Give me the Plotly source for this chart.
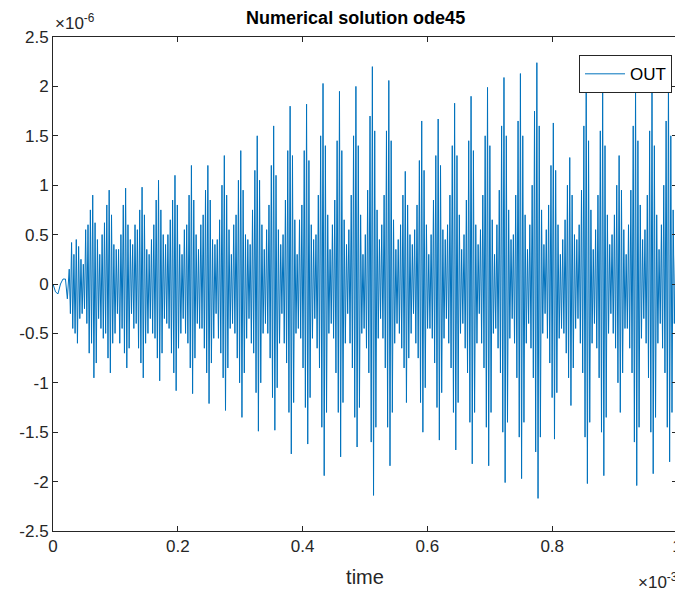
import numpy as np
import plotly.graph_objects as go

# start-up transient before the oscillation (time in 1e-3 units, value in 1e-6 units)
start_t = [0.0, 0.004, 0.008, 0.012, 0.016, 0.020, 0.023]
start_v = [0.0, -0.08, -0.1, 0.0, 0.05, 0.05, -0.15]

# oscillation, read beat by beat (14 half-swings per beat), units of 1e-6
osc_v = [
    0.15, -0.3, 0.42, -0.45, 0.3, -0.5, 0.45, -0.6, 0.38, -0.35, 0.25, -0.3, 0.2, -0.25,
    0.55, -0.4, 0.6, -0.7, 0.75, -0.6, 0.9, -0.95, 0.62, -0.8, 0.45, -0.35, 0.3, -0.45,
    0.5, -0.55, 0.62, -0.5, 0.8, -0.75, 0.95, -0.9, 0.7, -0.6, 0.4, -0.5, 0.35, -0.3,
    0.35, -0.6, 0.5, -0.45, 0.8, -0.7, 0.97, -0.85, 0.6, -0.65, 0.45, -0.3, 0.4, -0.45,
    0.6, -0.4, 0.55, -0.65, 0.75, -0.8, 0.98, -0.95, 0.7, -0.6, 0.35, -0.5, 0.3, -0.35,
    0.45, -0.5, 0.6, -0.55, 0.85, -0.75, 1.05, -0.98, 0.75, -0.7, 0.5, -0.35, 0.4, -0.4,
    0.5, -0.45, 0.65, -0.7, 0.85, -0.9, 1.1, -1.08, 0.8, -0.65, 0.4, -0.5, 0.3, -0.35,
    0.55, -0.5, 0.6, -0.6, 0.9, -0.85, 1.2, -1.11, 0.85, -0.75, 0.5, -0.4, 0.35, -0.45,
    0.6, -0.45, 0.7, -0.65, 0.95, -0.9, 1.2, -1.21, 0.85, -0.8, 0.45, -0.55, 0.4, -0.3,
    0.45, -0.55, 0.65, -0.7, 1.0, -0.95, 1.3, -1.28, 0.9, -0.85, 0.55, -0.45, 0.3, -0.4,
    0.6, -0.5, 0.7, -0.75, 1.05, -1.0, 1.35, -1.35, 0.95, -0.9, 0.5, -0.55, 0.45, -0.35,
    0.4, -0.6, 0.75, -0.7, 1.15, -1.1, 1.5, -1.49, 1.05, -1.0, 0.6, -0.5, 0.35, -0.4,
    0.55, -0.5, 0.8, -0.75, 1.2, -1.15, 1.6, -1.48, 1.1, -1.05, 0.55, -0.6, 0.4, -0.3,
    0.5, -0.6, 0.85, -0.8, 1.35, -1.3, 1.8, -1.72, 1.3, -1.2, 0.65, -0.5, 0.3, -0.45,
    0.65, -0.55, 0.8, -0.85, 1.35, -1.25, 1.82, -1.62, 1.25, -1.15, 0.6, -0.55, 0.45, -0.35,
    0.5, -0.65, 0.9, -0.85, 1.5, -1.45, 2.03, -1.94, 1.4, -1.3, 0.7, -0.5, 0.35, -0.4,
    0.6, -0.55, 0.85, -0.9, 1.45, -1.3, 1.95, -1.75, 1.35, -1.2, 0.65, -0.6, 0.4, -0.3,
    0.55, -0.6, 0.9, -0.85, 1.5, -1.35, 2.0, -1.65, 1.4, -1.25, 0.7, -0.5, 0.3, -0.45,
    0.5, -0.65, 0.95, -0.9, 1.7, -1.6, 2.2, -2.14, 1.55, -1.45, 0.75, -0.55, 0.45, -0.35,
    0.6, -0.55, 0.9, -0.85, 1.55, -1.45, 2.06, -1.84, 1.45, -1.3, 0.65, -0.6, 0.35, -0.4,
    0.45, -0.5, 0.6, -0.65, 0.9, -0.85, 1.14, -1.2, 0.8, -0.75, 0.5, -0.5, 0.4, -0.3,
    0.55, -0.6, 0.8, -0.75, 1.25, -1.2, 1.65, -1.5, 1.15, -1.05, 0.6, -0.45, 0.3, -0.45,
    0.5, -0.55, 0.85, -0.8, 1.3, -1.25, 1.67, -1.58, 1.2, -1.1, 0.55, -0.55, 0.45, -0.35,
    0.6, -0.6, 0.9, -0.85, 1.4, -1.3, 1.83, -1.68, 1.3, -1.2, 0.7, -0.5, 0.35, -0.4,
    0.5, -0.65, 0.85, -0.9, 1.45, -1.4, 1.9, -1.82, 1.35, -1.3, 0.6, -0.6, 0.4, -0.3,
    0.55, -0.6, 0.9, -0.85, 1.5, -1.45, 1.99, -1.84, 1.4, -1.3, 0.65, -0.5, 0.3, -0.45,
    0.6, -0.65, 0.95, -0.9, 1.6, -1.5, 2.09, -2.01, 1.5, -1.4, 0.75, -0.55, 0.45, -0.35,
    0.5, -0.6, 0.9, -0.95, 1.65, -1.55, 2.13, -1.97, 1.5, -1.4, 0.7, -0.6, 0.35, -0.4,
    0.6, -0.65, 1.0, -0.95, 1.75, -1.7, 2.24, -2.17, 1.6, -1.55, 0.75, -0.5, 0.4, -0.3,
    0.55, -0.55, 0.8, -0.8, 1.2, -1.15, 1.63, -1.57, 1.15, -1.1, 0.6, -0.55, 0.3, -0.45,
    0.45, -0.5, 0.65, -0.7, 1.0, -0.95, 1.28, -1.23, 0.9, -0.85, 0.5, -0.45, 0.45, -0.35,
    0.6, -0.6, 0.95, -0.9, 1.6, -1.55, 2.05, -2.02, 1.45, -1.4, 0.75, -0.6, 0.35, -0.4,
    0.55, -0.65, 0.9, -0.95, 1.55, -1.5, 2.0, -1.94, 1.4, -1.35, 0.7, -0.5, 0.4, -0.3,
    0.5, -0.5, 0.7, -0.65, 1.0, -1.0, 1.3, -1.3, 0.95, -0.9, 0.55, -0.45, 0.3, -0.45,
    0.6, -0.65, 0.95, -0.9, 1.6, -1.6, 2.03, -2.04, 1.45, -1.45, 0.8, -0.55, 0.45, -0.35,
    0.55, -0.6, 0.9, -0.95, 1.55, -1.5, 1.99, -1.92, 1.4, -1.35, 0.7, -0.6, 0.35, -0.4,
    0.6, -0.65, 1.0, -0.9, 1.65, -1.45, 2.11, -1.8, 1.5, -1.3, 0.75, -0.4, 0.3, 0.1,
]
osc_t = np.linspace(0.026, 0.9995, len(osc_v))

x_ticks = [0, 0.2, 0.4, 0.6, 0.8, 1]
y_ticks = [-2.5, -2, -1.5, -1, -0.5, 0, 0.5, 1, 1.5, 2, 2.5]

t = np.concatenate([start_t, osc_t]) * 1e-3
y = np.array(start_v + osc_v) * 1e-6

font = "Liberation Sans, Arial, Helvetica, sans-serif"
axcol = "#262626"

fig = go.Figure()
fig.add_trace(go.Scatter(x=t, y=y, mode="lines", name="OUT",
                         line=dict(color="#0072BD", width=1)))

# the page body adds an 8px offset, so the figure is sized to fit the window
fig.update_layout(
    width=675, height=588,
    margin=dict(l=45, r=6, t=29, b=65, autoexpand=False),
    paper_bgcolor="white", plot_bgcolor="white",
    font=dict(family=font, size=17, color=axcol),
    title=dict(text="<b>Numerical solution ode45</b>", x=0.515, xanchor="center",
               y=0.994, yanchor="top", font=dict(size=18, color="black")),
    showlegend=True,
    legend=dict(x=0.992, xanchor="right", y=0.963, yanchor="top",
                bgcolor="white", bordercolor=axcol, borderwidth=1,
                font=dict(size=17, color="black"), itemwidth=40,
                tracegroupgap=0),
)
fig.update_xaxes(
    range=[0, 1e-3], tickvals=[v * 1e-3 for v in x_ticks],
    ticktext=[f"{v:g}" for v in x_ticks], automargin=False,
    showline=True, linecolor=axcol, linewidth=1, mirror="ticks",
    ticks="inside", ticklen=5, tickcolor=axcol, showgrid=False, zeroline=False,
    title=dict(text="time", font=dict(size=20, color=axcol), standoff=14),
)
fig.update_yaxes(
    range=[-2.5e-6, 2.5e-6], tickvals=[v * 1e-6 for v in y_ticks],
    ticktext=[f"{v:g}" for v in y_ticks], automargin=False,
    showline=True, linecolor=axcol, linewidth=1, mirror="ticks",
    ticks="inside", ticklen=5, tickcolor=axcol, showgrid=False, zeroline=False,
)
fig.add_annotation(text="×10<sup>-6</sup>", xref="paper", yref="paper",
                   x=0, y=1.005, xanchor="left", yanchor="bottom", showarrow=False,
                   font=dict(size=17, color=axcol))
fig.add_annotation(text="×10<sup>-3</sup>", xref="paper", yref="paper",
                   x=1.005, y=-0.075, xanchor="right", yanchor="top", showarrow=False,
                   font=dict(size=17, color=axcol))

fig.write_html("out.html")
